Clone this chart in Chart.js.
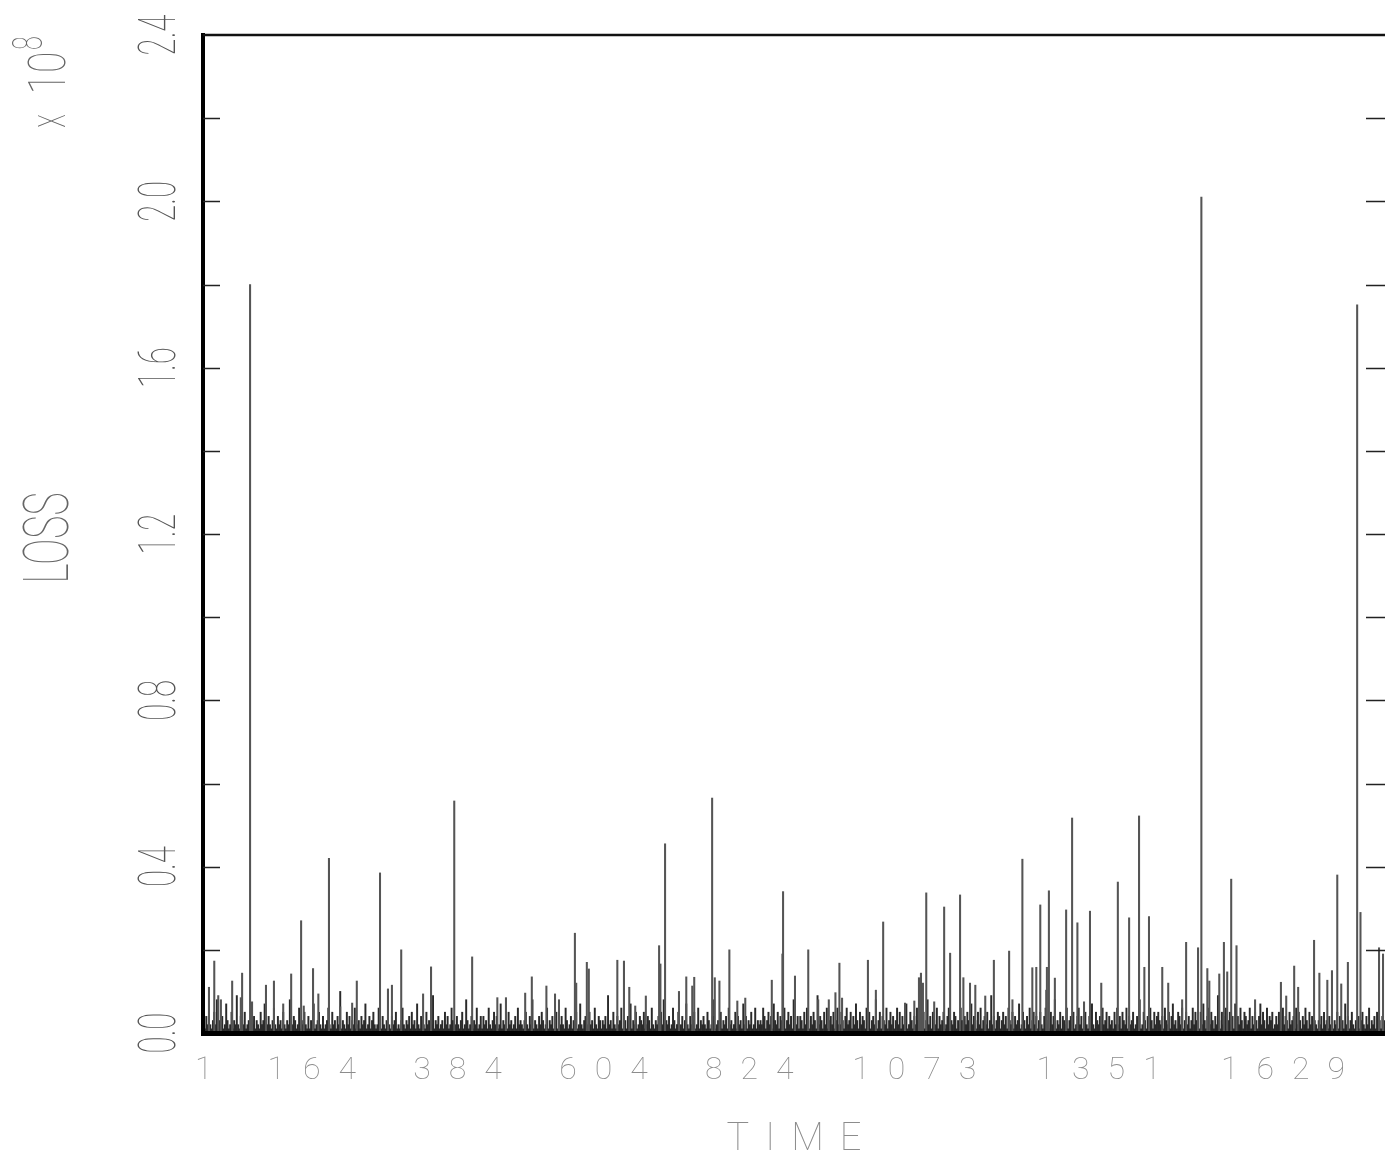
<!DOCTYPE html>
<html>
<head>
<meta charset="utf-8">
<script src="https://cdn.jsdelivr.net/npm/chart.js@4/dist/chart.umd.min.js"></script>
<style>
  html, body { margin: 0; padding: 0; background: #fff; }
  #wrap { width: 1385px; height: 1155px; }
</style>
</head>
<body>
<div id="wrap"><canvas id="loss-chart" width="1385" height="1155"></canvas></div>
<script>
// time index of the visible spikes, and their loss (x 10^8)
var spikeTimes = [9,17,23,27,44,57,59,71,74,95,107,121,133,148,152,166,174,190,207,225,
  232,267,279,285,299,332,344,379,406,444,457,486,496,518,531,537,561,563,579,582,
  625,635,643,652,668,688,690,697,718,729,738,741,768,772,779,794,806,818,858,874,
  875,893,913,928,944,954,960,964,1003,1015,1026,1059,1073,1080,1083,1086,1091,1103,1118,1127,
  1142,1147,1157,1165,1180,1193,1216,1221,1236,1251,1257,1263,1272,1273,1276,1285,1302,1311,1319,1329,
  1338,1355,1380,1397,1412,1420,1427,1447,1456,1477,1483,1501,1506,1515,1518,1533,1540,1545,1551,1559,
  1587,1626,1634,1646,1652,1676,1684,1696,1703,1711,1717,1727,1741,1746,1774,1780];
var spikeValues = [0.11,0.173,0.09,0.08,0.125,0.085,0.144,1.80,0.075,0.115,0.125,0.07,0.142,0.27,0.065,0.155,0.094,0.42,0.063,0.072,
  0.125,0.385,0.106,0.115,0.20,0.094,0.159,0.558,0.183,0.085,0.085,0.096,0.135,0.113,0.094,0.08,0.24,0.12,0.17,0.154,
  0.175,0.173,0.11,0.065,0.089,0.21,0.166,0.455,0.10,0.135,0.113,0.134,0.565,0.133,0.125,0.20,0.077,0.084,0.127,0.19,
  0.34,0.137,0.20,0.08,0.08,0.097,0.168,0.084,0.175,0.103,0.267,0.072,0.077,0.133,0.144,0.12,0.337,0.075,0.303,0.192,
  0.332,0.133,0.12,0.115,0.089,0.175,0.197,0.08,0.418,0.157,0.158,0.308,0.103,0.158,0.342,0.132,0.296,0.517,0.265,0.075,
  0.293,0.12,0.363,0.277,0.522,0.158,0.28,0.158,0.12,0.08,0.218,0.205,2.01,0.155,0.125,0.142,0.218,0.147,0.37,0.21,
  0.08,0.122,0.089,0.161,0.11,0.223,0.144,0.127,0.15,0.38,0.118,0.17,1.751,0.29,0.205,0.19];

// low-level losses, every 2nd time step from t=1, in units of 0.01 x 10^8
var grassStart = 1;
var grassStep = 2;
var grassValues = [
  3,1,4,2,6,2,1,3,5,2,8,1,3,2,4,1,2,7,3,1,2,5,1,3,2,9,2,1,4,3,
  2,5,1,2,3,1,6,2,4,1,3,2,1,5,2,3,7,1,2,4,2,1,3,6,2,1,4,2,3,1,
  5,2,1,3,2,8,1,2,4,3,1,2,6,1,3,2,5,2,1,4,1,3,2,7,1,2,3,5,2,1,
  4,1,2,3,6,2,1,5,2,3,1,4,2,10,1,3,2,1,5,2,4,1,3,2,6,1,2,3,1,4,
  2,3,7,1,2,4,1,3,5,2,1,2,6,3,1,4,2,1,3,8,2,1,4,2,3,5,1,2,1,3,
  6,2,1,3,2,4,1,5,2,3,1,7,2,1,4,3,2,1,5,2,3,1,2,9,1,3,2,4,1,2,
  3,1,5,2,4,1,2,6,3,1,2,4,2,1,3,5,1,2,8,3,1,2,4,1,3,2,6,1,2,4,
  1,4,2,3,1,6,2,1,3,5,2,4,1,2,7,1,3,2,4,1,5,2,3,1,2,4,1,6,2,3,
  2,1,3,5,2,1,4,2,8,1,3,2,1,4,2,5,3,1,2,6,1,3,2,4,1,2,5,1,3,2,
  4,2,1,6,3,1,2,4,1,3,2,5,1,2,7,2,1,3,4,2,1,5,2,3,1,6,2,1,4,3,
  1,3,2,4,1,9,2,3,1,5,2,1,4,2,3,6,1,2,3,1,4,2,7,1,3,2,5,1,2,4,
  3,2,5,1,2,4,3,1,6,2,1,3,2,4,1,5,2,8,1,3,2,4,1,2,6,3,1,2,5,1,
  2,4,1,3,7,2,1,4,2,3,5,1,2,6,1,3,2,4,2,1,5,3,1,2,4,8,1,2,3,1,
  5,1,3,2,4,1,6,2,3,1,2,5,1,4,2,3,1,7,2,4,1,3,2,5,1,2,6,1,3,2,
  3,2,6,4,1,3,5,2,4,1,7,3,2,5,1,4,3,2,6,1,3,5,2,4,1,8,3,2,4,1,
  4,3,1,5,2,6,3,1,4,2,5,3,1,9,2,4,3,1,5,2,6,1,3,4,2,5,1,3,6,2,
  2,5,3,1,4,6,2,3,5,1,4,2,7,3,1,5,2,4,3,1,6,2,5,1,3,4,2,8,1,3,
  5,1,4,3,2,6,1,3,5,2,4,1,3,6,2,5,1,4,2,3,7,1,2,5,3,1,4,2,6,3,
  3,4,2,5,1,3,8,2,4,1,5,3,2,6,1,4,2,3,5,1,2,4,6,1,3,2,5,4,1,3,
  2,6,3,1,4,2,5,3,1,7,2,4,3,1,5,2,6,1,3,4,2,5,1,3,9,2,4,1,3,5,
  4,1,3,5,2,4,1,6,3,2,5,1,4,2,3,7,1,2,5,3,1,4,2,6,1,3,5,2,4,1,
  3,5,2,1,4,6,2,3,1,5,2,4,8,1,3,2,5,1,4,3,2,6,1,3,4,2,5,1,2,4,
  6,2,4,1,3,5,2,1,4,3,7,2,1,5,3,2,4,1,6,2,3,5,1,4,2,3,1,5,2,6,
  2,4,1,5,3,2,6,1,4,2,3,5,1,2,4,3,8,1,2,5,3,1,4,2,6,3,1,5,2,4,
  5,3,2,4,1,6,3,2,5,1,4,7,2,3,1,5,4,2,6,1,3,5,2,4,1,3,6,2,5,3,
  3,1,5,2,7,3,1,4,6,2,5,3,1,4,2,9,3,1,5,2,4,6,1,3,5,2,4,1,7,3,
  4,2,6,3,1,5,4,2,3,6,1,4,2,5,3,1,4,7,2,5,3,1,6,2,4,3,5,1,2,4,
  2,5,3,1,6,2,4,3,1,5,2,3,4,1,6,2,5,3,1,4,2,6,3,1,5,2,4,1,3,2,
  1,3,2,4,1,5,2,3,1,4,2,6,1,3,2,5,1,4,2,3,1,7,2,4,1,3,5,2,1,3,
  2,4,1,3,5,2,1,4,2,6,1,3,2,4,1,5,2,3,1,4,2,3,1,5,2,4,1,3,2,4
];

var xTickValues = [1, 164, 384, 604, 824, 1073, 1351, 1629];
var yTickValues = [0.2, 0.4, 0.6, 0.8, 1.0, 1.2, 1.4, 1.6, 1.8, 2.0, 2.2];
var yLabelValues = [0, 0.4, 0.8, 1.2, 1.6, 2.0, 2.4];
var yLabelTexts = ['0.0', '0.4', '0.8', '1.2', '1.6', '2.0', '2.4'];

var FONT = 'Roboto, "Open Sans", sans-serif';

function rotText(ctx, text, x, y, size, sx, color) {
  ctx.save();
  ctx.translate(x, y);
  ctx.rotate(-Math.PI / 2);
  ctx.scale(sx, 1);
  ctx.font = '100 ' + size + 'px ' + FONT;
  ctx.fillStyle = color;
  ctx.textAlign = 'center';
  ctx.textBaseline = 'alphabetic';
  ctx.fillText(text, 0, 0);
  ctx.restore();
}

function spacedText(ctx, text, cx, baseY, size, gap, color) {
  ctx.save();
  ctx.font = '100 ' + size + 'px ' + FONT;
  ctx.fillStyle = color;
  ctx.textAlign = 'left';
  ctx.textBaseline = 'alphabetic';
  var chars = text.split('');
  var widths = chars.map(function (c) { return ctx.measureText(c).width; });
  var total = widths.reduce(function (a, b) { return a + b; }, 0) + gap * (chars.length - 1);
  var x = cx - total / 2;
  chars.forEach(function (c, i) {
    ctx.fillText(c, x, baseY);
    x += widths[i] + gap;
  });
  ctx.restore();
}

var decor = {
  id: 'decor',
  afterDraw: function (chart) {
    var ctx = chart.ctx;
    var area = chart.chartArea;
    var xs = chart.scales.x;
    var ys = chart.scales.y;

    ctx.save();
    // top frame line
    ctx.strokeStyle = '#111';
    ctx.lineWidth = 2.5;
    ctx.beginPath();
    ctx.moveTo(area.left, area.top);
    ctx.lineTo(area.right, area.top);
    ctx.stroke();

    // inward ticks, left and right
    ctx.lineWidth = 1.6;
    ctx.strokeStyle = '#222';
    yTickValues.forEach(function (v) {
      var py = Math.round(ys.getPixelForValue(v)) + 0.5;
      ctx.beginPath();
      ctx.moveTo(area.left, py);
      ctx.lineTo(area.left + 17, py);
      ctx.moveTo(area.right - 19, py);
      ctx.lineTo(area.right, py);
      ctx.stroke();
    });
    ctx.restore();

    // y tick labels, rotated
    yLabelValues.forEach(function (v, i) {
      rotText(ctx, yLabelTexts[i], 175, ys.getPixelForValue(v), 52, 0.6, '#555');
    });

    // x tick labels
    xTickValues.forEach(function (v) {
      spacedText(ctx, String(v), xs.getPixelForValue(v), 1079, 32, 18, '#8c8c8c');
    });

    // axis titles
    rotText(ctx, 'LOSS', 68, 538, 63, 0.62, '#666');
    spacedText(ctx, 'TIME', (area.left + area.right) / 2, 1150, 38, 16, '#8c8c8c');

    // exponent
    rotText(ctx, 'x', 65, 121, 52, 0.55, '#666');
    rotText(ctx, '10', 65, 73, 52, 0.75, '#666');
    rotText(ctx, '8', 42, 43, 42, 0.6, '#666');
  }
};

var grassPoints = grassValues.map(function (v, i) {
  return { x: grassStart + i * grassStep, y: v / 100 };
});
var spikePoints = spikeTimes.map(function (t, i) {
  return { x: t, y: spikeValues[i] };
});

new Chart(document.getElementById('loss-chart').getContext('2d'), {
  type: 'bar',
  data: {
    datasets: [
      {
        label: 'low',
        data: grassPoints,
        backgroundColor: '#2a2a2a',
        barThickness: 1.3,
        grouped: false,
        order: 2
      },
      {
        label: 'loss',
        data: spikePoints,
        backgroundColor: '#555',
        barThickness: 1.4,
        grouped: false,
        order: 1
      }
    ]
  },
  options: {
    responsive: false,
    animation: false,
    layout: { padding: { left: 203, top: 35, right: 0, bottom: 122 } },
    plugins: {
      legend: { display: false },
      tooltip: { enabled: false }
    },
    scales: {
      x: {
        type: 'linear',
        min: 0,
        max: 1783,
        offset: false,
        ticks: { display: false },
        grid: { display: false, drawTicks: false },
        border: { display: true, color: '#000', width: 5, z: 1 },
        afterFit: function (s) { s.height = 0; }
      },
      y: {
        min: 0,
        max: 2.4,
        ticks: { display: false },
        grid: { display: false, drawTicks: false },
        border: { display: true, color: '#000', width: 4, z: 1 },
        afterFit: function (s) { s.width = 0; }
      }
    }
  },
  plugins: [decor]
});
</script>
</body>
</html>
